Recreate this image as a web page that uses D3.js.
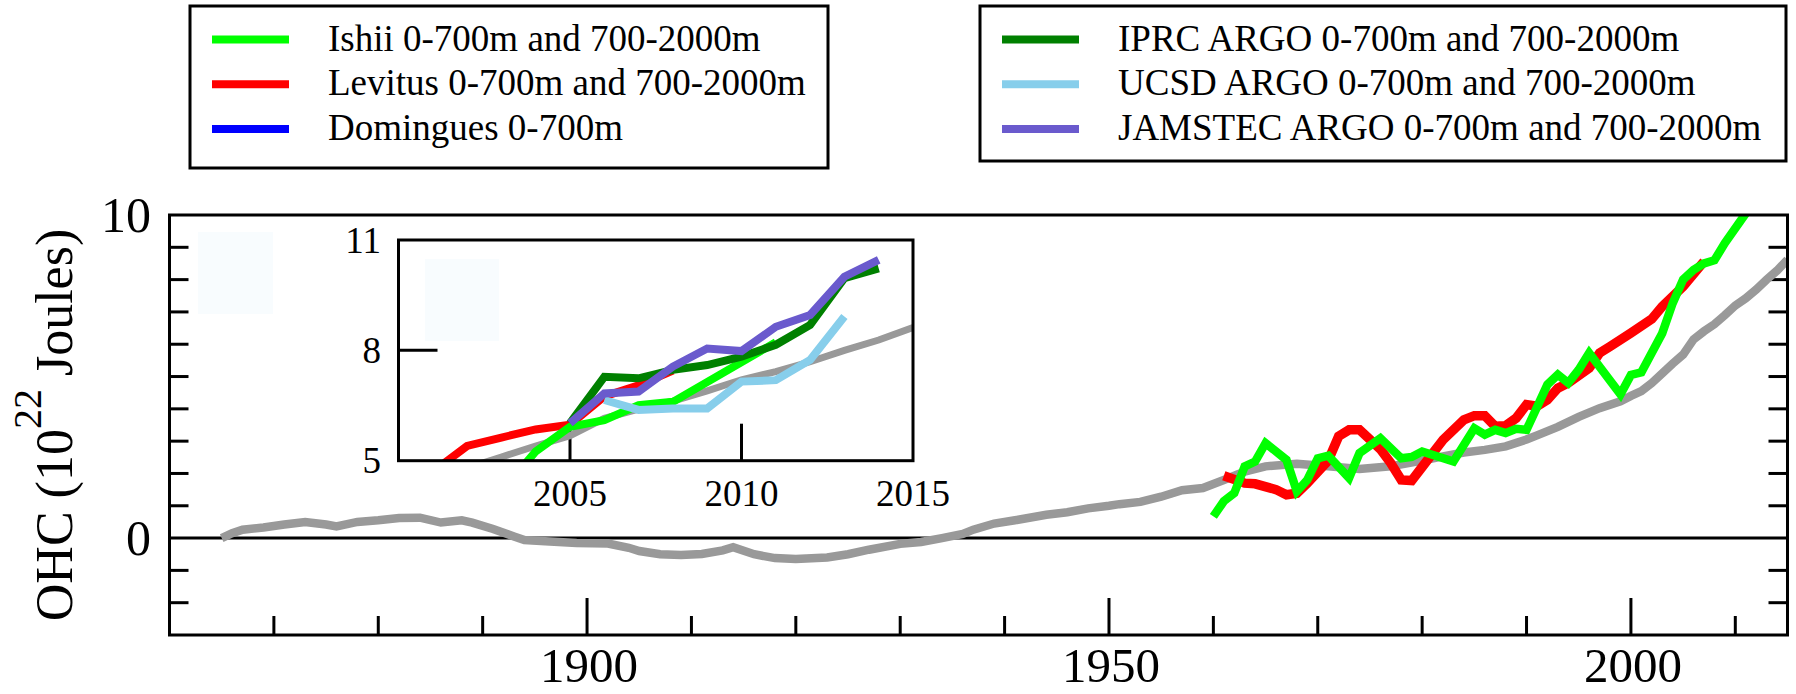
<!DOCTYPE html>
<html>
<head>
<meta charset="utf-8">
<script src="https://cdn.jsdelivr.net/npm/d3@7"></script>
<style>
  body { margin: 0; background: #fff; }
  svg text { font-family: "Liberation Serif", "Times New Roman", Times, "DejaVu Serif", serif; fill: #000; }
</style>
</head>
<body>
<div id="chart"></div>
<script>
// ---- data (10^22 J) ----
const grayYears = [1865, 1866, 1867, 1869, 1871, 1873, 1875, 1876, 1878, 1880, 1882, 1884, 1886, 1888, 1889, 1891, 1893, 1894, 1896, 1899,
  1902, 1904, 1905, 1907, 1909, 1911, 1913, 1914, 1916, 1918, 1920, 1923, 1925, 1927, 1930, 1932, 1934, 1936, 1937, 1939,
  1941, 1944, 1946, 1948, 1950, 1951, 1953, 1955, 1957, 1959, 1961, 1963, 1965, 1968, 1971, 1974, 1977, 1980, 1982, 1984,
  1986, 1988, 1990, 1991, 1993, 1995, 1997, 1999, 2000, 2001, 2002, 2003, 2004, 2005, 2006, 2007, 2008, 2009, 2010, 2011,
  2012, 2013, 2014, 2015];
const grayValues = [0.0, 0.15, 0.26, 0.33, 0.42, 0.5, 0.42, 0.36, 0.5, 0.55, 0.62, 0.63, 0.48, 0.55, 0.48, 0.28, 0.05, -0.06, -0.1, -0.15,
  -0.17, -0.3, -0.4, -0.5, -0.52, -0.49, -0.38, -0.28, -0.5, -0.62, -0.65, -0.6, -0.5, -0.36, -0.18, -0.12, 0.0, 0.13, 0.26, 0.45,
  0.55, 0.72, 0.8, 0.92, 1.0, 1.05, 1.12, 1.28, 1.48, 1.55, 1.8, 2.06, 2.22, 2.3, 2.22, 2.14, 2.22, 2.4, 2.53, 2.65,
  2.73, 2.84, 3.05, 3.18, 3.44, 3.75, 4.02, 4.23, 4.4, 4.55, 4.8, 5.1, 5.4, 5.68, 6.15, 6.4, 6.62, 6.9, 7.2, 7.42,
  7.69, 8.0, 8.28, 8.62];

const levitusYears = [1961, 1963, 1964, 1966, 1967, 1968, 1969, 1971, 1972, 1973, 1974, 1976, 1977, 1978, 1979, 1980, 1982, 1984,
  1985, 1986, 1987, 1988, 1989, 1990, 1991, 1992, 1993, 1994, 1996, 1997, 1998, 2000, 2002, 2003, 2005, 2007];
const levitusValues = [1.93, 1.7, 1.68, 1.5, 1.34, 1.39, 1.7, 2.4, 3.15, 3.35, 3.35, 2.75, 2.32, 1.8, 1.78, 2.2, 3.04, 3.66,
  3.79, 3.79, 3.46, 3.48, 3.71, 4.13, 4.08, 4.28, 4.64, 4.8, 5.26, 5.73, 5.93, 6.35, 6.78, 7.17, 7.79, 8.56];

const ishiiYears = [1960, 1961, 1962, 1963, 1964, 1965, 1967, 1968, 1969, 1970, 1971, 1973, 1974, 1976, 1978, 1979, 1980, 1983,
  1985, 1986, 1987, 1988, 1989, 1990, 1992, 1993, 1994, 1995, 1996, 1999, 2000, 2001, 2003, 2004, 2005, 2006, 2007, 2008,
  2009, 2011, 2012];
const ishiiValues = [0.67, 1.14, 1.39, 2.22, 2.37, 2.94, 2.42, 1.44, 1.8, 2.47, 2.55, 1.86, 2.63, 3.09, 2.47, 2.51, 2.68, 2.37,
  3.4, 3.2, 3.35, 3.25, 3.38, 3.35, 4.75, 5.06, 4.8, 5.21, 5.73, 4.45, 5.05, 5.13, 6.34, 7.27, 8.0, 8.3, 8.5, 8.6,
  9.13, 10.05, 10.6];

// inset, 2000-2015
const levitusInsetYears = [2001, 2002, 2003, 2004, 2005, 2006, 2007, 2008];
const levitusInsetValues = [4.7, 5.4, 5.63, 5.85, 5.98, 6.75, 7.05, 7.45];
const ishiiInsetYears = [2003, 2004, 2005, 2006, 2007, 2008, 2011];
const ishiiInsetValues = [4.16, 5.25, 5.92, 6.1, 6.51, 6.6, 8.22];
const ucsdYears = [2006, 2007, 2008, 2009, 2010, 2011, 2012, 2013];
const ucsdValues = [6.65, 6.38, 6.42, 6.42, 7.15, 7.19, 7.74, 8.92];
const iprcYears = [2005, 2006, 2007, 2008, 2009, 2010, 2011, 2012, 2013, 2014];
const iprcValues = [6.02, 7.28, 7.24, 7.47, 7.6, 7.83, 8.15, 8.69, 9.96, 10.23];
const jamstecYears = [2005, 2006, 2007, 2008, 2009, 2010, 2011, 2012, 2013, 2014];
const jamstecValues = [6.02, 6.83, 6.88, 7.56, 8.05, 7.98, 8.64, 8.96, 10.0, 10.46];

// legends
const legendLeftLabels = ["Ishii 0-700m and 700-2000m", "Levitus 0-700m and 700-2000m", "Domingues 0-700m"];
const legendLeftColors = ["#00ff00", "#ff0000", "#0000ff"];
const legendRightLabels = ["IPRC ARGO 0-700m and 700-2000m", "UCSD ARGO 0-700m and 700-2000m", "JAMSTEC ARGO 0-700m and 700-2000m"];
const legendRightColors = ["#008000", "#87ceeb", "#6a5acd"];

// ticks
const xMinorTicks = d3.range(1870, 2011, 10);
const xMajorTicks = [1900, 1950, 2000];
const yTicks = [-2, -1, 1, 2, 3, 4, 5, 6, 7, 8, 9];
const yLabels = [0, 10];
const insetXTicks = [2005, 2010];
const insetXLabels = [2005, 2010, 2015];
const insetYTicks = [8];
const insetYLabels = [5, 8, 11];

// ---- svg ----
const width = 1796;
const height = 694;
const serif = "'Liberation Serif', 'Times New Roman', Times, 'DejaVu Serif', serif";

const svg = d3.select("#chart")
  .append("svg")
  .attr("width", width)
  .attr("height", height)
  .attr("font-family", serif);

const pair = (ys, vs) => ys.map((d, i) => [d, vs[i]]);

// main plot
const plot = { left: 169.5, right: 1787.5, top: 215, bottom: 635 };
const x = d3.scaleLinear().domain([1860, 2015]).range([plot.left, plot.right]);
const y = d3.scaleLinear().domain([-3, 10]).range([plot.bottom, plot.top]);

svg.append("clipPath").attr("id", "clip-main")
  .append("rect")
  .attr("x", plot.left).attr("y", plot.top)
  .attr("width", plot.right - plot.left).attr("height", plot.bottom - plot.top);

// faint placeholder box (top left)
svg.append("rect")
  .attr("x", 198).attr("y", 232).attr("width", 75).attr("height", 82)
  .attr("fill", "#f8fcfe");

// y ticks, both sides
yTicks.forEach(v => {
  svg.append("line")
    .attr("x1", plot.left).attr("x2", plot.left + 19)
    .attr("y1", y(v)).attr("y2", y(v))
    .attr("stroke", "#000").attr("stroke-width", 3);
  svg.append("line")
    .attr("x1", plot.right - 19).attr("x2", plot.right)
    .attr("y1", y(v)).attr("y2", y(v))
    .attr("stroke", "#000").attr("stroke-width", 3);
});

// x ticks
xMinorTicks.forEach(t => {
  const len = xMajorTicks.includes(t) ? 37 : 19;
  svg.append("line")
    .attr("x1", x(t)).attr("x2", x(t))
    .attr("y1", plot.bottom).attr("y2", plot.bottom - len)
    .attr("stroke", "#000").attr("stroke-width", 3);
});

// zero line
svg.append("line")
  .attr("x1", plot.left).attr("x2", plot.right)
  .attr("y1", y(0)).attr("y2", y(0))
  .attr("stroke", "#000").attr("stroke-width", 3);

const line = d3.line().x(d => x(d[0])).y(d => y(d[1]));

const mainGroup = svg.append("g").attr("clip-path", "url(#clip-main)");
[
  { data: pair(grayYears, grayValues), color: "#999999", w: 8.5 },
  { data: pair(levitusYears, levitusValues), color: "#ff0000", w: 9.5 },
  { data: pair(ishiiYears, ishiiValues), color: "#00ff00", w: 8.5 }
].forEach(s => {
  mainGroup.append("path")
    .attr("d", line(s.data))
    .attr("fill", "none")
    .attr("stroke", s.color)
    .attr("stroke-width", s.w)
    .attr("stroke-linejoin", "miter")
    .attr("stroke-miterlimit", 3);
});

// frame
svg.append("rect")
  .attr("x", plot.left).attr("y", plot.top)
  .attr("width", plot.right - plot.left).attr("height", plot.bottom - plot.top)
  .attr("fill", "none").attr("stroke", "#000").attr("stroke-width", 3);

// tick labels
xMajorTicks.forEach(t => {
  svg.append("text")
    .attr("x", x(t) + 2).attr("y", 682)
    .attr("text-anchor", "middle")
    .attr("font-size", 49)
    .text(t);
});
yLabels.forEach(v => {
  svg.append("text")
    .attr("x", 151).attr("y", y(v) + 17)
    .attr("text-anchor", "end")
    .attr("font-size", 50)
    .text(v);
});

// y axis title
const title = svg.append("text")
  .attr("transform", "translate(72,425) rotate(-90)")
  .attr("text-anchor", "middle")
  .attr("font-size", 52);
title.append("tspan").text("OHC (10");
title.append("tspan").attr("font-size", 40).attr("dy", -31).text("22");
title.append("tspan").attr("dy", 31).text(" Joules)");

// ---- inset ----
const inset = { left: 398.5, right: 913, top: 240, bottom: 460.7 };
const ix = d3.scaleLinear().domain([2000, 2015]).range([inset.left, inset.right]);
const iy = d3.scaleLinear().domain([5, 11]).range([inset.bottom, inset.top]);

svg.append("clipPath").attr("id", "clip-inset")
  .append("rect")
  .attr("x", inset.left).attr("y", inset.top)
  .attr("width", inset.right - inset.left).attr("height", inset.bottom - inset.top);

svg.append("rect")
  .attr("x", inset.left).attr("y", inset.top)
  .attr("width", inset.right - inset.left).attr("height", inset.bottom - inset.top)
  .attr("fill", "#fff");

svg.append("rect")
  .attr("x", 425).attr("y", 259).attr("width", 74).attr("height", 82)
  .attr("fill", "#f8fcfe");

insetYTicks.forEach(v => {
  svg.append("line")
    .attr("x1", inset.left).attr("x2", inset.left + 39)
    .attr("y1", iy(v)).attr("y2", iy(v))
    .attr("stroke", "#000").attr("stroke-width", 3);
});
insetXTicks.forEach(t => {
  svg.append("line")
    .attr("x1", ix(t)).attr("x2", ix(t))
    .attr("y1", inset.bottom).attr("y2", inset.bottom - 37)
    .attr("stroke", "#000").attr("stroke-width", 3);
});

const iline = d3.line().x(d => ix(d[0])).y(d => iy(d[1]));
const insetGroup = svg.append("g").attr("clip-path", "url(#clip-inset)");
[
  { data: pair(grayYears, grayValues).filter(d => d[0] >= 2000), color: "#999999", w: 7 },
  { data: pair(levitusInsetYears, levitusInsetValues), color: "#ff0000", w: 8 },
  { data: pair(ishiiInsetYears, ishiiInsetValues), color: "#00ff00", w: 8 },
  { data: pair(ucsdYears, ucsdValues), color: "#87ceeb", w: 8 },
  { data: pair(iprcYears, iprcValues), color: "#008000", w: 8 },
  { data: pair(jamstecYears, jamstecValues), color: "#6a5acd", w: 8 }
].forEach(s => {
  insetGroup.append("path")
    .attr("d", iline(s.data))
    .attr("fill", "none")
    .attr("stroke", s.color)
    .attr("stroke-width", s.w)
    .attr("stroke-linejoin", "miter")
    .attr("stroke-miterlimit", 3);
});

svg.append("rect")
  .attr("x", inset.left).attr("y", inset.top)
  .attr("width", inset.right - inset.left).attr("height", inset.bottom - inset.top)
  .attr("fill", "none").attr("stroke", "#000").attr("stroke-width", 3);

insetXLabels.forEach(t => {
  svg.append("text")
    .attr("x", ix(t)).attr("y", 506)
    .attr("text-anchor", "middle")
    .attr("font-size", 37)
    .text(t);
});
insetYLabels.forEach(v => {
  svg.append("text")
    .attr("x", 381).attr("y", iy(v) + 12.5)
    .attr("text-anchor", "end")
    .attr("font-size", 37)
    .text(v);
});

// ---- legends ----
function drawLegend(box, labels, colors) {
  svg.append("rect")
    .attr("x", box.x).attr("y", box.y)
    .attr("width", box.w).attr("height", box.h)
    .attr("fill", "#fff").attr("stroke", "#000").attr("stroke-width", 3);
  labels.forEach((label, i) => {
    const base = 50.5 + i * 44.7;
    svg.append("line")
      .attr("x1", box.x + 22).attr("x2", box.x + 99)
      .attr("y1", base - 11).attr("y2", base - 11)
      .attr("stroke", colors[i]).attr("stroke-width", 8);
    svg.append("text")
      .attr("x", box.x + 138).attr("y", base)
      .attr("font-size", 37)
      .text(label);
  });
}

drawLegend({ x: 190, y: 6, w: 638, h: 162 }, legendLeftLabels, legendLeftColors);
drawLegend({ x: 980, y: 6, w: 806, h: 155 }, legendRightLabels, legendRightColors);
</script>
</body>
</html>
